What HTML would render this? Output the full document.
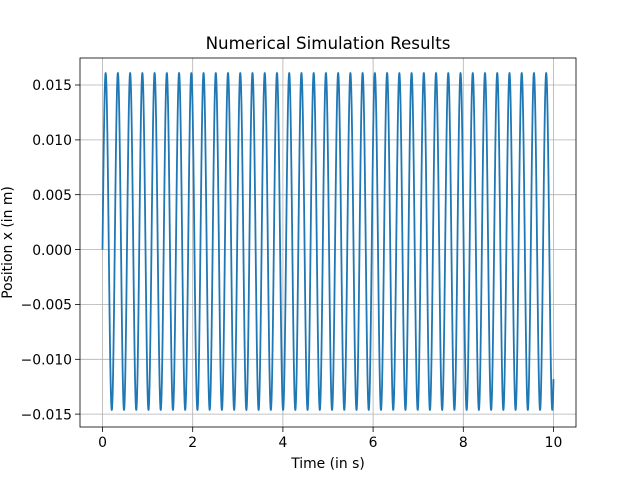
<!DOCTYPE html>
<html><head><meta charset="utf-8"><style>body{margin:0;background:#fff}svg{display:block}text{font-family:"DejaVu Sans","Liberation Sans",sans-serif;fill:#000}</style></head>
<body>
<svg id="s" width="640" height="480" xmlns="http://www.w3.org/2000/svg">
<rect width="640" height="480" fill="#fff"/>
<g stroke="#b0b0b0" stroke-width="0.8">
<line x1="102.5" y1="58" x2="102.5" y2="427"/>
<line x1="192.7" y1="58" x2="192.7" y2="427"/>
<line x1="282.9" y1="58" x2="282.9" y2="427"/>
<line x1="373.1" y1="58" x2="373.1" y2="427"/>
<line x1="463.3" y1="58" x2="463.3" y2="427"/>
<line x1="553.5" y1="58" x2="553.5" y2="427"/>
<line x1="80" y1="85" x2="576" y2="85"/>
<line x1="80" y1="139.9" x2="576" y2="139.9"/>
<line x1="80" y1="194.7" x2="576" y2="194.7"/>
<line x1="80" y1="249.6" x2="576" y2="249.6"/>
<line x1="80" y1="304.4" x2="576" y2="304.4"/>
<line x1="80" y1="359.3" x2="576" y2="359.3"/>
<line x1="80" y1="414.1" x2="576" y2="414.1"/>
</g>
<path id="p" fill="none" stroke="#1f77b4" stroke-width="1.8" stroke-linejoin="round"/>
<rect x="80" y="58" width="496" height="369" fill="none" stroke="#000" stroke-width="0.8"/>
<g stroke="#000" stroke-width="0.8">
<line x1="102.5" y1="427" x2="102.5" y2="432"/><line x1="192.7" y1="427" x2="192.7" y2="432"/><line x1="282.9" y1="427" x2="282.9" y2="432"/><line x1="373.1" y1="427" x2="373.1" y2="432"/><line x1="463.3" y1="427" x2="463.3" y2="432"/><line x1="553.5" y1="427" x2="553.5" y2="432"/>
<line x1="75" y1="85" x2="80" y2="85"/><line x1="75" y1="139.9" x2="80" y2="139.9"/><line x1="75" y1="194.7" x2="80" y2="194.7"/><line x1="75" y1="249.6" x2="80" y2="249.6"/><line x1="75" y1="304.4" x2="80" y2="304.4"/><line x1="75" y1="359.3" x2="80" y2="359.3"/><line x1="75" y1="414.1" x2="80" y2="414.1"/>
</g>
<g font-size="13.9" text-anchor="middle">
<text x="102.5" y="447">0</text><text x="192.7" y="447">2</text><text x="282.9" y="447">4</text><text x="373.1" y="447">6</text><text x="463.3" y="447">8</text><text x="553.5" y="447">10</text>
</g>
<g font-size="13.9" text-anchor="end">
<text x="72" y="90.2">0.015</text><text x="72" y="145.1">0.010</text><text x="72" y="199.9">0.005</text><text x="72" y="254.8">0.000</text><text x="72" y="309.6">−0.005</text><text x="72" y="364.5">−0.010</text><text x="72" y="419.3">−0.015</text>
</g>
<text x="328" y="468" font-size="13.9" text-anchor="middle">Time (in s)</text>
<text transform="translate(12,242.5) rotate(-90)" font-size="13.9" text-anchor="middle">Position x (in m)</text>
<text x="328" y="49" font-size="16.7" text-anchor="middle">Numerical Simulation Results</text>
</svg>
<script>
var d="",f=1/0.27133,N=4000;
for(var i=0;i<=N;i++){var t=10*i/N;var v=0.00074+0.01534*Math.sin(2*Math.PI*f*t)-0.00074*Math.cos(2*Math.PI*f*t);
var x=102.5+t*45.1,y=249.6-v/0.005*54.85;d+=(i?"L":"M")+x.toFixed(2)+" "+y.toFixed(2);}
document.getElementById("p").setAttribute("d",d);
</script>
</body></html>
